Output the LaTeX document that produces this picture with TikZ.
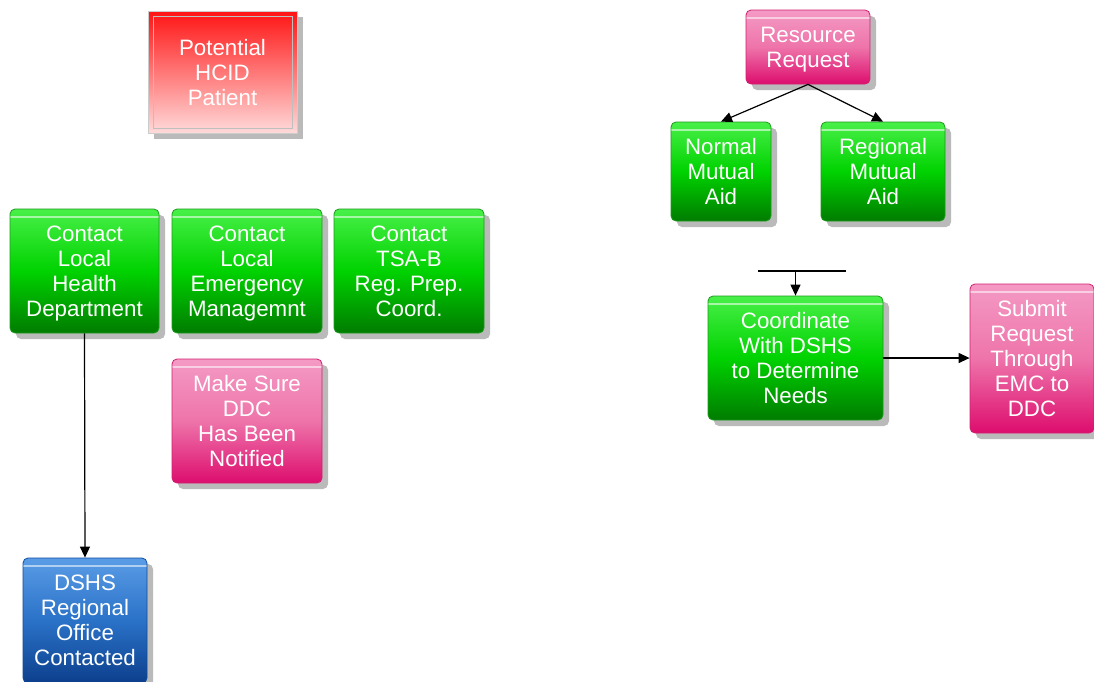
\documentclass[tikz,border=0pt]{standalone}
\usepackage{fontspec}
\setmainfont{Liberation Sans}
\usetikzlibrary{arrows.meta,shadows}
\definecolor{gtop}{HTML}{48F048}
\definecolor{gmid}{HTML}{00D200}
\definecolor{gbot}{HTML}{007C00}
\definecolor{gline}{HTML}{1E9A1E}
\definecolor{ptop}{HTML}{F49AC4}
\definecolor{pmid}{HTML}{EE74AA}
\definecolor{pbot}{HTML}{DD0D6E}
\definecolor{pline}{HTML}{D0206F}
\definecolor{btop}{HTML}{5A9CE6}
\definecolor{bmid}{HTML}{2A72C8}
\definecolor{bbot}{HTML}{0C3F8C}
\definecolor{bline}{HTML}{104C9C}
\definecolor{rtop}{HTML}{FF1414}
\definecolor{rbot}{HTML}{FFDADA}
\tikzset{
  box/.style={rounded corners=5pt, align=center, text=white, inner sep=0pt,
    font=\fontsize{22.3}{25}\selectfont, line width=0.8pt, text depth=0pt,
    drop shadow={shadow xshift=6pt,shadow yshift=-6pt,fill=black!27,opacity=1},
    path picture={\draw[white,opacity=0.55,line width=1.5pt]
      ([yshift=-8pt]path picture bounding box.north west) --
      ([yshift=-8pt]path picture bounding box.north east);}},
  greenbox/.style={box, draw=gline, top color=gtop, bottom color=gbot, middle color=gmid},
  pinkbox/.style={box, draw=pline, top color=ptop, bottom color=pbot, middle color=pmid},
  bluebox/.style={box, draw=bline, top color=btop, bottom color=bbot, middle color=bmid},
  redbox/.style={align=center, text=white, inner sep=0pt, text depth=0pt,
    font=\fontsize{22.3}{25}\selectfont, draw=black!20, line width=0.8pt,
    top color=rtop, bottom color=rbot,
    drop shadow={shadow xshift=6pt,shadow yshift=-6pt,fill=black!27,opacity=1},
    path picture={\draw[black!25,line width=0.8pt]
      ([shift={(5pt,-5pt)}]path picture bounding box.north west) rectangle
      ([shift={(-5pt,5pt)}]path picture bounding box.south east);}},
  conn/.style={line width=1.2pt, black, -{Triangle[length=11pt,width=10pt]}},
  plain/.style={line width=1.2pt, black}
}
\begin{document}
\begin{tikzpicture}[x=1pt,y=-1pt]
\useasboundingbox (0,0) rectangle (1094,681);
\fill[white] (0,0) rectangle (1094,681);

\node[redbox, minimum width=149pt, minimum height=122pt] (hcid) at (222.5,72) {Potential\\HCID\\Patient};

\node[greenbox, minimum width=149pt, minimum height=124pt] (c1) at (84.5,271) {Contact\\Local\\Health\\Department};
\node[greenbox, minimum width=150pt, minimum height=124pt] (c2) at (247,271) {Contact\\Local\\Emergency\\Managemnt};
\node[greenbox, minimum width=150pt, minimum height=124pt] (c3) at (409,271) {Contact\\TSA-B\\Reg. Prep.\\Coord.};
\node[pinkbox, minimum width=150pt, minimum height=124pt] (ddc) at (247,421) {Make Sure\\DDC\\Has Been\\Notified};
\node[bluebox, minimum width=124pt, minimum height=125pt] (dshs) at (85,620.5) {DSHS\\Regional\\Office\\Contacted};

\node[pinkbox, minimum width=124pt, minimum height=74pt] (rr) at (808,47) {Resource\\Request};
\node[greenbox, minimum width=100pt, minimum height=99pt] (nma) at (721,171.5) {Normal\\Mutual\\Aid};
\node[greenbox, minimum width=124pt, minimum height=99pt] (rma) at (883,171.5) {Regional\\Mutual\\Aid};
\node[greenbox, minimum width=175pt, minimum height=124pt] (coord) at (795.5,358) {Coordinate\\With DSHS\\to Determine\\Needs};
\node[pinkbox, minimum width=124pt, minimum height=149pt] (sub) at (1032,358.5) {Submit\\Request\\Through\\EMC to\\DDC};

\coordinate (hl) at (758,271);
\coordinate (hr) at (846,271);

\draw[conn] (c1.south) -- (dshs.north);
\draw[conn] (rr.south) -- (nma.north);
\draw[conn] (rr.south) -- (rma.north);
\draw[plain] (hl) -- (hr);
\draw[conn] (coord.north |- hl) -- (coord.north);
\draw[conn] (coord.east) -- (coord.east -| sub.west);
\end{tikzpicture}
\end{document}
